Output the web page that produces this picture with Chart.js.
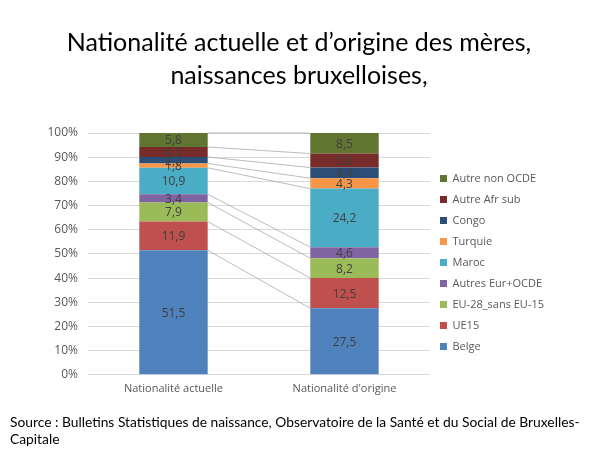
<!DOCTYPE html>
<html>
<head>
<meta charset="utf-8">
<script src="https://cdn.jsdelivr.net/npm/chart.js@4.4.1/dist/chart.umd.min.js"></script>
<style>
    body { margin: 0; background: #fff; }
    #cadre { position: relative; width: 600px; height: 450px; }
    #source {
        position: absolute; left: 10px; top: 413px; width: 585px;
        font-family: Lato, "Open Sans", sans-serif; font-size: 13.8px; line-height: 17px; color: #000;
    }
</style>
</head>
<body>
<div id="cadre">
    <canvas id="chartNationalite" width="600" height="450"></canvas>
    <div id="source">Source : Bulletins Statistiques de naissance, Observatoire de la Santé et du Social de Bruxelles-Capitale</div>
</div>
<script>
const categories = ['Nationalité actuelle', "Nationalité d'origine"]

const belge = [51.5, 27.5]
const ue15 = [11.9, 12.5]
const eu28SansEu15 = [7.9, 8.2]
const autresEurOcde = [3.4, 4.6]
const maroc = [10.9, 24.2]
const turquie = [1.8, 4.3]
const congo = [2.7, 4.4]
const autreAfrSub = [4.1, 5.8]
const autreNonOcde = [5.8, 8.5]

const ticksY = [0, 10, 20, 30, 40, 50, 60, 70, 80, 90, 100]

function serie(label, data, cor) {
    return {
        label: label,
        data: data,
        backgroundColor: cor,
        borderWidth: 0,
        barPercentage: 0.4,
        categoryPercentage: 1
    }
}

// valeurs au milieu de chaque segment
const pluginEtiquettes = {
    id: 'etiquettes',
    afterDatasetsDraw(chart) {
        const ctx = chart.ctx
        ctx.save()
        ctx.font = '12px "Open Sans", sans-serif'
        ctx.fillStyle = '#404040'
        ctx.textAlign = 'center'
        ctx.textBaseline = 'middle'
        chart.data.datasets.forEach((ds, i) => {
            chart.getDatasetMeta(i).data.forEach((bar, j) => {
                const meio = (bar.y + bar.base) / 2
                ctx.fillText(String(ds.data[j]).replace('.', ','), bar.x, meio + 1)
            })
        })
        ctx.restore()
    }
}

// lignes de séries entre les deux barres
const pluginLignes = {
    id: 'lignesSeries',
    afterDatasetsDraw(chart) {
        const ctx = chart.ctx
        ctx.save()
        ctx.strokeStyle = '#a6a6a6'
        ctx.lineWidth = 0.75
        chart.data.datasets.forEach((ds, i) => {
            const barras = chart.getDatasetMeta(i).data
            const a = barras[0], b = barras[1]
            ctx.beginPath()
            ctx.moveTo(a.x + a.width / 2, a.y)
            ctx.lineTo(b.x - b.width / 2, b.y)
            ctx.stroke()
        })
        ctx.restore()
    }
}

document.addEventListener("DOMContentLoaded", () => {
    const ctxNat = document.getElementById('chartNationalite')

    new Chart(ctxNat, {
        type: 'bar',
        data: {
            labels: categories,
            datasets: [
                serie('Belge', belge, '#4f81bd'),
                serie('UE15', ue15, '#c0504d'),
                serie('EU-28_sans EU-15', eu28SansEu15, '#9bbb59'),
                serie('Autres Eur+OCDE', autresEurOcde, '#8064a2'),
                serie('Maroc', maroc, '#4bacc6'),
                serie('Turquie', turquie, '#f79646'),
                serie('Congo', congo, '#2c4d75'),
                serie('Autre Afr sub', autreAfrSub, '#772c2a'),
                serie('Autre non OCDE', autreNonOcde, '#5f7530')
            ]
        },
        options: {
            responsive: false,
            animation: false,
            layout: {
                padding: { left: 44, right: 46, top: 0, bottom: 48 }
            },
            plugins: {
                title: {
                    display: true,
                    text: ['Nationalité actuelle et d’origine des mères,', 'naissances bruxelloises,'],
                    color: '#000',
                    font: { family: 'Lato', size: 25, weight: 'normal', lineHeight: 1.3 },
                    padding: { top: 27, bottom: 41 }
                },
                legend: {
                    position: 'right',
                    reverse: true,
                    fullSize: false,
                    // titre vide, juste pour descendre un peu la légende
                    title: { display: true, text: '', font: { size: 1 }, padding: { top: 16, bottom: 0 } },
                    labels: {
                        boxWidth: 7,
                        boxHeight: 7,
                        padding: 10,
                        color: '#595959',
                        font: { family: 'Open Sans', size: 11 }
                    }
                },
                tooltip: { enabled: false }
            },
            scales: {
                x: {
                    stacked: true,
                    grid: { display: false, drawTicks: false },
                    border: { color: '#d9d9d9' },
                    ticks: {
                        color: '#595959',
                        font: { family: 'Open Sans', size: 11 },
                        padding: 7
                    }
                },
                y: {
                    stacked: true,
                    min: 0,
                    max: 100,
                    afterBuildTicks: (eixo) => {
                        eixo.ticks = ticksY.map(v => ({ value: v }))
                    },
                    afterFit: (eixo) => {
                        eixo.width = 44
                    },
                    grid: { color: '#d9d9d9', drawTicks: false },
                    border: { display: false },
                    ticks: {
                        color: '#595959',
                        font: { family: 'Open Sans', size: 12 },
                        padding: 10,
                        callback: (v) => v + '%'
                    }
                }
            }
        },
        plugins: [pluginLignes, pluginEtiquettes]
    })
})
</script>
</body>
</html>
